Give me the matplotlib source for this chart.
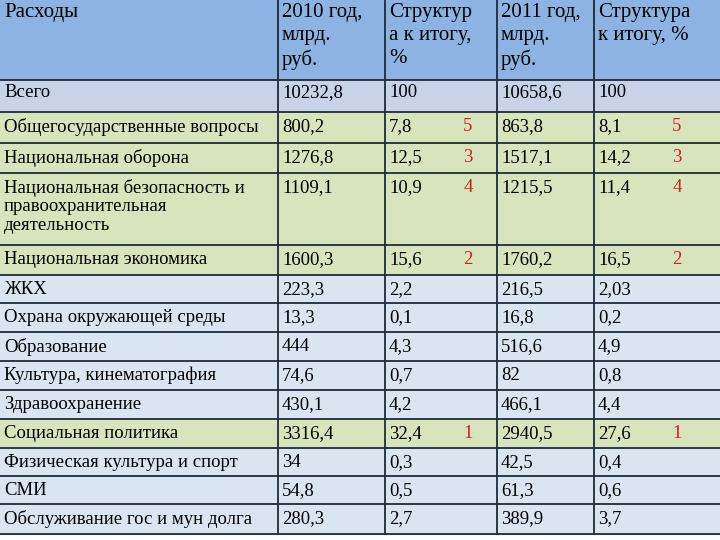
import matplotlib.pyplot as plt
from matplotlib.patches import Rectangle

# data
categories = ["Всего", "Общегосударственные вопросы", "Национальная оборона",
              "Национальная безопасность и\nправоохранительная\nдеятельность",
              "Национальная экономика", "ЖКХ", "Охрана окружающей среды",
              "Образование", "Культура, кинематография", "Здравоохранение",
              "Социальная политика", "Физическая культура и спорт", "СМИ",
              "Обслуживание гос и мун долга"]
spend_2010 = ["10232,8", "800,2", "1276,8", "1109,1", "1600,3", "223,3", "13,3",
              "444", "74,6", "430,1", "3316,4", "34", "54,8", "280,3"]
share_2010 = ["100", "7,8", "12,5", "10,9", "15,6", "2,2", "0,1",
              "4,3", "0,7", "4,2", "32,4", "0,3", "0,5", "2,7"]
spend_2011 = ["10658,6", "863,8", "1517,1", "1215,5", "1760,2", "216,5", "16,8",
              "516,6", "82", "466,1", "2940,5", "42,5", "61,3", "389,9"]
share_2011 = ["100", "8,1", "14,2", "11,4", "16,5", "2,03", "0,2",
              "4,9", "0,8", "4,4", "27,6", "0,4", "0,6", "3,7"]
ranks = ["", "5", "3", "4", "2", "", "", "", "", "", "1", "", "", ""]
headers = ["Расходы", "2010 год,\nмлрд.\nруб.", "Структур\nа к итогу,\n%",
           "2011 год,\nмлрд.\nруб.", "Структура\nк итогу, %"]

# layout (pixels)
col_x = [0, 278, 385, 497, 594, 720]
row_y = [112, 143, 173, 245, 275, 303, 332, 361, 390, 419, 448, 476, 504, 534]
green_rows = {1, 2, 3, 4, 10}

HEAD = "#8db3e2"
TOTAL = "#c9d3e8"
GREEN = "#d7e4bc"
BLUE = "#dbe5f1"
LINE = "#1f2a3a"

fig = plt.figure(figsize=(7.2, 5.4), dpi=100)
ax = fig.add_axes([0, 0, 1, 1])
ax.set_xlim(0, 720)
ax.set_ylim(540, 0)
ax.axis("off")
ax.add_patch(Rectangle((0, 0), 720, 540, color="white", zorder=0))

font = dict(family=["Liberation Serif", "DejaVu Serif"], fontsize=13.5, color="black")

# header block
ax.add_patch(Rectangle((0, 0), 720, 80, color=HEAD, zorder=1))
for i, h in enumerate(headers):
    ax.text(col_x[i] + 4, 3, h, va="top", ha="left", linespacing=1.3,
            **dict(font, fontsize=15))

# body rows
tops = [80] + row_y[:-1]
for r, cat in enumerate(categories):
    y0, y1 = tops[r], row_y[r]
    colour = TOTAL if r == 0 else (GREEN if r in green_rows else BLUE)
    ax.add_patch(Rectangle((0, y0), 720, y1 - y0, color=colour, zorder=1))
    ty = y0 + 6 if r != 0 else y0 + 4
    vals = [cat, spend_2010[r], share_2010[r], spend_2011[r], share_2011[r]]
    for i, v in enumerate(vals):
        ax.text(col_x[i] + 4, ty, v, va="top", ha="left", linespacing=1.1, **font)
    if ranks[r]:
        f = dict(font, color="#d42020")
        ax.text(468, ty, ranks[r], va="top", ha="center", **f)
        ax.text(677, ty, ranks[r], va="top", ha="center", **f)

# grid lines
for y in [80] + row_y:
    ax.plot([0, 720], [y, y], color=LINE, lw=1.3, zorder=2)
for x in col_x[1:-1]:
    ax.plot([x, x], [0, row_y[-1]], color=LINE, lw=1.3, zorder=2)

fig.savefig("out.png", dpi=100)
